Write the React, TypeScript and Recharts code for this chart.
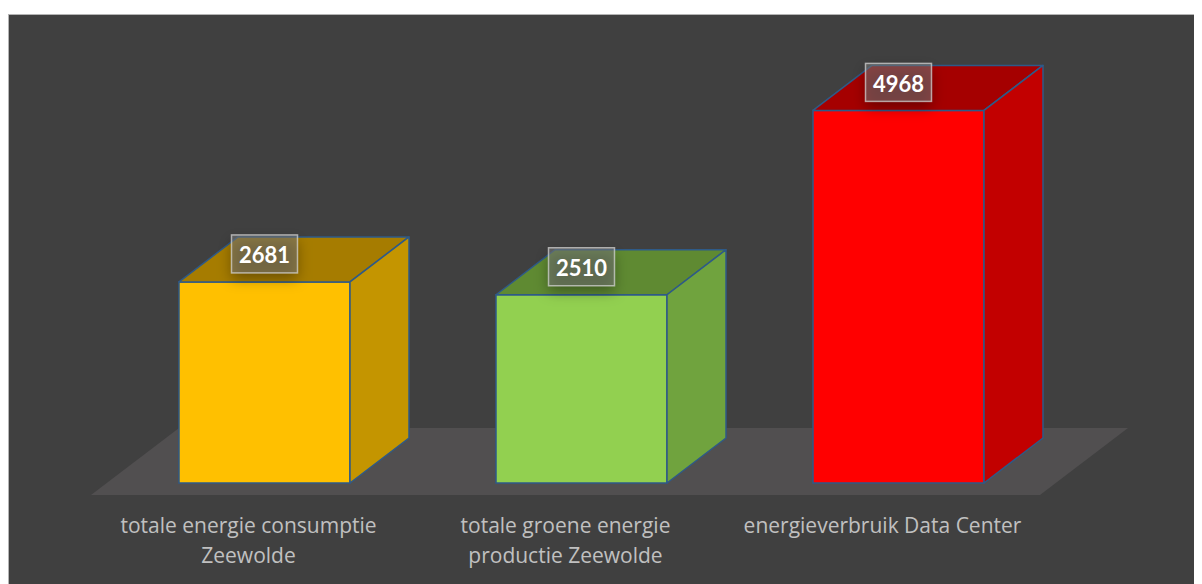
import React from 'react';
import { BarChart, Bar, XAxis, YAxis, ReferenceArea, LabelList } from 'recharts';

const categoryLines: string[][] = [
  ['totale energie consumptie', 'Zeewolde'],
  ['totale groene energie', 'productie Zeewolde'],
  ['energieverbruik Data Center'],
];
const categories = categoryLines.map((l) => l.join(' '));
const values = [2681, 2510, 4968];
const frontColors = ['#FFC000', '#92D050', '#FF0000'];
const topColors = ['#A67C00', '#5F8A32', '#A50000'];
const sideColors = ['#C49500', '#70A33E', '#C20000'];

const data = categories.map((name, i) => ({ name, value: values[i] }));

const DX = 59;
const DY = 45;
const EDGE = '#2E5A88';
const FONT = '"Open Sans", Lato, sans-serif';

function Box3D(props: any) {
  const { x, y, width, height, index } = props;
  const w = width;
  const h = height;
  const top = `${x},${y} ${x + DX},${y - DY} ${x + w + DX},${y - DY} ${x + w},${y}`;
  const side = `${x + w},${y} ${x + w + DX},${y - DY} ${x + w + DX},${y + h - DY} ${x + w},${y + h}`;
  return (
    <g>
      <rect x={x} y={y} width={w} height={h} fill={frontColors[index]} stroke={EDGE} strokeWidth={1.5} />
      <polygon points={top} fill={topColors[index]} stroke={EDGE} strokeWidth={1.5} strokeLinejoin="round" />
      <polygon points={side} fill={sideColors[index]} stroke={EDGE} strokeWidth={1.5} strokeLinejoin="round" />
    </g>
  );
}

function Floor(props: any) {
  const { x, y, width, height } = props;
  const base = y + height;
  const fy = base + 12;
  const by = fy - 67;
  const lx = x - 15;
  const rx = x + width - 17;
  const pts = `${lx},${fy} ${rx},${fy} ${rx + 88},${by} ${lx + 88},${by}`;
  return <polygon points={pts} fill="#514F50" />;
}

function ValueLabel(props: any) {
  const { x, y, width, value } = props;
  const cx = x + width / 2;
  const cy = y - 28;
  const bw = 66;
  const bh = 38;
  return (
    <g>
      <rect x={cx - bw / 2} y={cy - bh / 2 + 6} width={bw} height={bh} fill="rgba(0,0,0,0.35)" filter="url(#lblShadow)" />
      <rect x={cx - bw / 2} y={cy - bh / 2} width={bw} height={bh} fill="rgba(120,120,120,0.55)" stroke="rgba(210,210,210,0.75)" strokeWidth={1.5} />
      <text x={cx} y={cy + 1} textAnchor="middle" dominantBaseline="central" fill="#FFFFFF" fontFamily='Lato, "Open Sans", sans-serif' fontWeight={700} fontSize={22}>
        {value}
      </text>
    </g>
  );
}

function CategoryTick(props: any) {
  const { x, y, payload } = props;
  const idx = categories.indexOf(payload.value);
  const lines = categoryLines[idx] || [payload.value];
  return (
    <g>
      {lines.map((ln, i) => (
        <text
          key={i}
          x={x - 16}
          y={y + 42 + i * 30}
          textAnchor="middle"
          fill="#C0C0C0"
          fontFamily={FONT}
          fontSize={21}
          style={{ fontVariantLigatures: 'none' }}
        >
          {ln}
        </text>
      ))}
    </g>
  );
}

export default function App() {
  return (
    <div
      style={{
        marginTop: 6,
        width: 1194,
        height: 570,
        background: '#404040',
        borderTop: '1px solid #B4B4B4',
        borderLeft: '1px solid #B4B4B4',
        boxSizing: 'border-box',
      }}
    >
      <svg width={0} height={0} style={{ position: 'absolute' }}>
        <defs>
          <filter id="lblShadow" x="-50%" y="-50%" width="200%" height="200%">
            <feGaussianBlur stdDeviation="7" />
          </filter>
        </defs>
      </svg>
      <BarChart
        width={1193}
        height={569}
        data={data}
        margin={{ top: 18, right: 145, left: 97, bottom: 0 }}
        barSize={171}
      >
        <XAxis dataKey="name" height={101} axisLine={false} tickLine={false} tick={<CategoryTick />} interval={0} />
        <YAxis hide domain={[0, 6000]} />
        <ReferenceArea
          x1={categories[0]}
          x2={categories[2]}
          y1={0}
          y2={1000}
          ifOverflow="visible"
          shape={(p: any) => <Floor {...p} />}
        />
        <Bar dataKey="value" isAnimationActive={false} shape={(p: any) => <Box3D {...p} />}>
          <LabelList dataKey="value" content={(p: any) => <ValueLabel {...p} />} />
        </Bar>
      </BarChart>
    </div>
  );
}
